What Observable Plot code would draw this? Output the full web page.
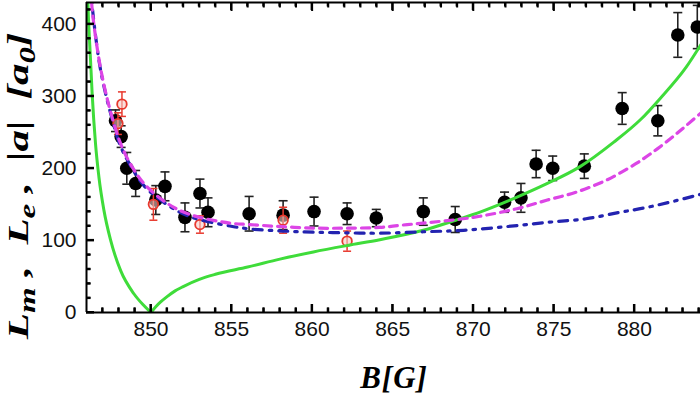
<!DOCTYPE html>
<html><head><meta charset="utf-8">
<script src="https://cdn.jsdelivr.net/npm/d3@7"></script>
<script src="https://cdn.jsdelivr.net/npm/@observablehq/plot@0.6"></script>
<style>
html,body{margin:0;padding:0;background:#fff;}
#chart{width:700px;height:395px;}
#chart svg{font-family:'Liberation Sans Narrow','Liberation Sans',Arial,sans-serif;}
</style></head><body><div id="chart"></div>
<script>
// ---- axes ----
const xDomain = [846, 884.1];
const yDomain = [0, 430];
const xMajorTicks = [850, 855, 860, 865, 870, 875, 880];
const xMinorTicks = [847,848,849,851,852,853,854,856,857,858,859,861,862,863,864,866,867,868,869,871,872,873,874,876,877,878,879,881,882,883,884];
const yMajorTicks = [0, 100, 200, 300, 400];
const yMinorTicks = [20,40,60,80,120,140,160,180,220,240,260,280,320,340,360,380,420];

// ---- black points (L_m measured) ----
const blackB   = [847.8, 848.15, 848.5, 849.05, 850.3, 850.87, 852.11, 853.04, 853.54, 856.09, 858.2, 860.12, 862.17, 863.98, 866.9, 868.88, 871.94, 872.96, 873.9, 874.93, 876.89, 879.24, 881.45, 882.69, 883.9];
const blackL   = [266, 244, 200, 179, 156, 175, 132, 165, 139, 137, 135, 140, 137, 131, 140, 129, 153, 159, 206, 200, 203, 283, 266, 385, 396];
const blackErr = [15, 15, 22, 18, 20, 20, 20, 20, 20, 24, 20, 20, 15, 12, 19, 18, 14, 20, 19, 17, 17, 22, 21, 31, 30];

// ---- red open circles (L_e measured) ----
const redB   = [847.95, 848.2, 850.15, 853.04, 858.2, 862.17];
const redL   = [262, 289, 150, 122, 128, 99];
const redErr = [15, 17, 22, 12, 18, 14];

// ---- green solid curve |a| (two branches) ----
const greenLeftB  = [846.02, 846.1, 846.25, 846.35, 846.56, 846.77, 847.08, 847.5, 848.12, 848.94, 849.5, 850.0];
const greenLeftA  = [470, 420, 350, 304, 234, 188, 142, 100, 58, 26, 11, 0];
const greenRightB = [850.0, 850.3, 850.6, 851.0, 851.5, 852.0, 853.0, 854.0, 856.0, 858.0, 860.08, 862.2, 864.2, 866.9, 868.9, 870.5, 872.5, 874.5, 876.6, 878.7, 880.4, 881.6, 883.2, 884.3];
const greenRightA = [0, 8, 14.6, 22, 30, 36, 46, 53, 63, 74, 84, 93, 101, 114, 128, 140, 158, 178, 202, 236, 268, 297, 340, 378];

// ---- magenta dashed curve ----
const magentaB = [846.25, 846.4, 846.8, 847.14, 847.56, 848.07, 848.7, 849.6, 850.97, 852.4, 854.9, 856.1, 858.2, 860.3, 862.2, 864.2, 865.5, 866.9, 870.0, 872.7, 874.6, 876.4, 878.3, 880.06, 880.8, 881.6, 882.4, 883.2, 884.3];
const magentaL = [450, 410, 348, 310, 273, 237, 207, 178, 152, 136, 124, 122, 119, 117, 117, 118, 121, 124, 132, 144, 156, 167, 184, 206, 217, 230, 244, 259, 280];

// ---- blue dash-dot curve ----
const blueB = [846.25, 846.4, 846.8, 847.14, 847.56, 848.07, 848.7, 849.6, 850.97, 852.4, 854.9, 856.1, 858.2, 860.1, 862.2, 864.2, 866.9, 869.4, 872.0, 874.6, 877.0, 879.1, 880.6, 882.2, 884.3];
const blueL = [455, 415, 346, 308, 271, 233, 205, 175, 150, 133, 120, 116, 113, 111.5, 110.5, 110, 112, 114, 119, 125, 130, 139, 145, 153, 165];

// ---- build tables ----
const black = blackB.map((b, i) => ({b, v: blackL[i], e: blackErr[i]}));
const red = redB.map((b, i) => ({b, v: redL[i], e: redErr[i]}));
const greenLeft = greenLeftB.map((b, i) => ({b, v: greenLeftA[i]}));
const greenRight = greenRightB.map((b, i) => ({b, v: greenRightA[i]}));
const magenta = magentaB.map((b, i) => ({b, v: magentaL[i]}));
const blue = blueB.map((b, i) => ({b, v: blueL[i]}));

// error-bar cap symbol
const cap = {draw(ctx, size) { const r = Math.sqrt(size / Math.PI); ctx.moveTo(-r, 0); ctx.lineTo(r, 0); }};

const GREEN = "#3fdc3a", MAGENTA = "#dc45e6", BLUE = "#2323b0", RED = "#e8392e";
const noText = () => "";

const plot = Plot.plot({
  width: 700, height: 395,
  marginLeft: 86, marginRight: 0, marginTop: 2, marginBottom: 83,
  x: {domain: xDomain},
  y: {domain: yDomain},
  marks: [
    // black data with error bars
    Plot.ruleX(black, {x: "b", y1: d => d.v - d.e, y2: d => d.v + d.e, stroke: "#222", strokeWidth: 1.6}),
    Plot.dot(black, {x: "b", y: d => d.v + d.e, symbol: cap, r: 4.5, stroke: "#222", strokeWidth: 1.6}),
    Plot.dot(black, {x: "b", y: d => d.v - d.e, symbol: cap, r: 4.5, stroke: "#222", strokeWidth: 1.6}),
    Plot.dot(black, {x: "b", y: "v", r: 6.8, fill: "#000", stroke: "none"}),
    // red data
    Plot.ruleX(red, {x: "b", y1: d => d.v - d.e, y2: d => d.v + d.e, stroke: RED, strokeWidth: 1.5}),
    Plot.dot(red, {x: "b", y: d => d.v + d.e, symbol: cap, r: 4, stroke: RED, strokeWidth: 1.5}),
    Plot.dot(red, {x: "b", y: d => d.v - d.e, symbol: cap, r: 4, stroke: RED, strokeWidth: 1.5}),
    Plot.dot(red, {x: "b", y: "v", r: 4.8, fill: "#f7c9c4", fillOpacity: 0.6, stroke: RED, strokeWidth: 1.8}),
    // curves
    Plot.line(greenLeft, {x: "b", y: "v", stroke: GREEN, strokeWidth: 3, curve: "monotone-x", clip: true}),
    Plot.line(greenRight, {x: "b", y: "v", stroke: GREEN, strokeWidth: 3, curve: "monotone-x", clip: true}),
    Plot.line(blue, {x: "b", y: "v", stroke: BLUE, strokeWidth: 3.2, strokeDasharray: "9,7,2.5,7", curve: "catmull-rom", clip: true}),
    Plot.line(magenta, {x: "b", y: "v", stroke: MAGENTA, strokeWidth: 3.2, strokeDasharray: "8,6", curve: "catmull-rom", clip: true}),
    // frame
    Plot.ruleX([xDomain[0]], {stroke: "#000", strokeWidth: 2}),
    Plot.ruleY([yDomain[0]], {stroke: "#000", strokeWidth: 2}),
    Plot.ruleY([yDomain[1]], {stroke: "#000", strokeWidth: 2}),
    // inward ticks (Plot axes with negative tick size)
    Plot.axisX(xMajorTicks, {anchor: "bottom", tickSize: -8, tickFormat: noText, label: null, stroke: "#000", strokeWidth: 2}),
    Plot.axisX(xMinorTicks, {anchor: "bottom", tickSize: -4.5, tickFormat: noText, label: null, stroke: "#000", strokeWidth: 2}),
    Plot.axisX(xMajorTicks, {anchor: "top", tickSize: -8, tickFormat: noText, label: null, stroke: "#000", strokeWidth: 2}),
    Plot.axisX(xMinorTicks, {anchor: "top", tickSize: -4.5, tickFormat: noText, label: null, stroke: "#000", strokeWidth: 2}),
    Plot.axisY(yMajorTicks, {anchor: "left", tickSize: -8, tickFormat: noText, label: null, stroke: "#000", strokeWidth: 2}),
    Plot.axisY(yMinorTicks, {anchor: "left", tickSize: -4.5, tickFormat: noText, label: null, stroke: "#000", strokeWidth: 2}),
    // tick labels
    Plot.axisX(xMajorTicks, {anchor: "bottom", tickSize: 0, tickPadding: 9, label: null, fontSize: 21, fill: "#111"}),
    Plot.axisY(yMajorTicks, {anchor: "left", tickSize: 0, tickPadding: 10, label: null, fontSize: 21, fill: "#111"})
  ]
});

document.getElementById("chart").appendChild(plot);

const svg = d3.select(plot);
const serif = "'Liberation Serif','Times New Roman',serif";
// y axis title (stretched along its direction like the original)
const yg = svg.append("g");
const yt = yg.append("text")
  .attr("text-anchor", "middle")
  .attr("font-family", serif).attr("font-weight", "bold").attr("font-style", "italic")
  .attr("font-size", 30).attr("fill", "#000").attr("style", "white-space:pre");
const parts = [["L"], ["m", 1], [" ,  L"], ["e", 1], [" ,  |a|  ["], ["a"], ["0", 1], ["]"]];
let shifted = false;
for (const [t, sub] of parts) {
  const ts = yt.append("tspan").text(t);
  if (sub && !shifted) { ts.attr("dy", 7).attr("font-size", 23); shifted = true; }
  else if (sub) { ts.attr("font-size", 23); }
  else if (shifted) { ts.attr("dy", -7); shifted = false; }
}
const w = yt.node().getBBox().width;
const sx = 308 / w;
yg.attr("transform", `translate(28,186) rotate(-90) scale(${sx},1)`);

// x axis title
svg.append("text")
  .attr("x", 394).attr("y", 388)
  .attr("text-anchor", "middle")
  .attr("font-family", serif).attr("font-weight", "bold").attr("font-style", "italic")
  .attr("font-size", 31).attr("letter-spacing", 1).attr("fill", "#000")
  .text("B[G]");

// backup: filled tick rectangles positioned through Plot's own scales
const xs = plot.scale("x"), ys = plot.scale("y");
const X0 = xs.apply(xDomain[0]), Yb = ys.apply(yDomain[0]), Yt = ys.apply(yDomain[1]);
const tg = svg.append("g").attr("fill", "#000");
const addX = (vals, len) => vals.forEach(v => {
  const px = xs.apply(v);
  tg.append("rect").attr("x", px - 1).attr("y", Yb - len).attr("width", 2).attr("height", len);
  tg.append("rect").attr("x", px - 1).attr("y", Yt).attr("width", 2).attr("height", len);
});
const addY = (vals, len) => vals.forEach(v => {
  const py = ys.apply(v);
  tg.append("rect").attr("x", X0).attr("y", py - 1).attr("width", len).attr("height", 2);
});
addX(xMajorTicks, 8); addX(xMinorTicks, 4.5);
addY(yMajorTicks, 8); addY(yMinorTicks, 4.5);
</script>
</body></html>
